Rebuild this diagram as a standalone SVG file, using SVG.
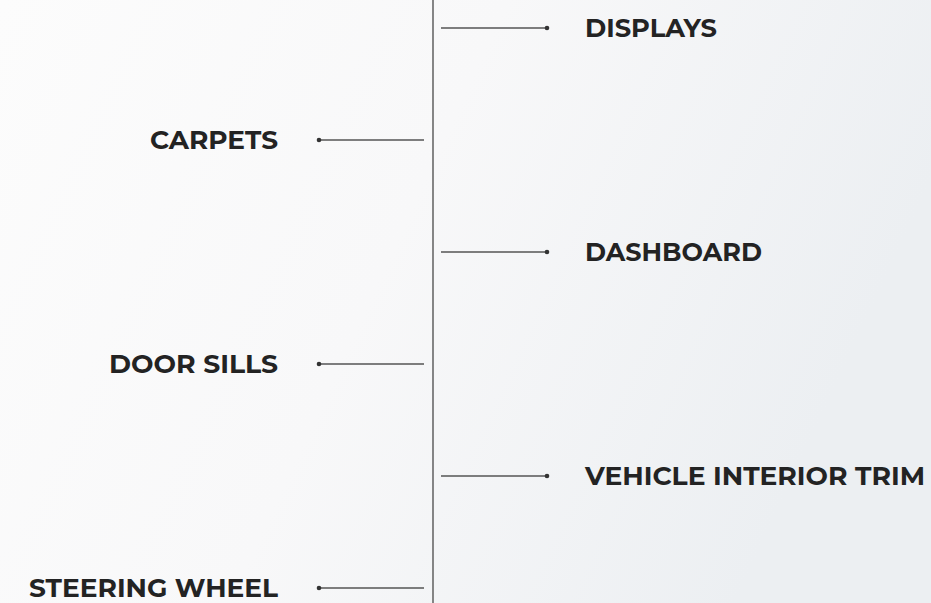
<svg xmlns="http://www.w3.org/2000/svg" width="931" height="603" viewBox="0 0 931 603">
<defs>
<linearGradient id="bg" x1="0" y1="0" x2="1" y2="0.3">
<stop offset="0" stop-color="#fcfcfc"/>
<stop offset="0.5" stop-color="#f8f8f9"/>
<stop offset="1" stop-color="#eceff2"/>
</linearGradient>
<style>
.lbl{font-family:"Montserrat","Liberation Sans",Arial,sans-serif;font-weight:bold;font-size:24.5px;fill:#232323}
.ln{stroke:#555;stroke-width:1.4;fill:none}
.dot{fill:#333}
</style>
</defs>
<rect width="931" height="603" fill="url(#bg)"/>
<g id="connectors">
<line class="ln" x1="433" y1="0" x2="433" y2="603"/>
<line class="ln" x1="441" y1="28" x2="547" y2="28"/><circle class="dot" cx="547" cy="28" r="2.3"/>
<line class="ln" x1="441" y1="252" x2="547" y2="252"/><circle class="dot" cx="547" cy="252" r="2.3"/>
<line class="ln" x1="441" y1="476" x2="547" y2="476"/><circle class="dot" cx="547" cy="476" r="2.3"/>
<line class="ln" x1="319" y1="140" x2="424" y2="140"/><circle class="dot" cx="319" cy="140" r="2.3"/>
<line class="ln" x1="319" y1="364" x2="424" y2="364"/><circle class="dot" cx="319" cy="364" r="2.3"/>
<line class="ln" x1="319" y1="588" x2="424" y2="588"/><circle class="dot" cx="319" cy="588" r="2.3"/>
</g>
<g id="displays"><text class="lbl" x="585" y="36.5" textLength="132" lengthAdjust="spacingAndGlyphs">DISPLAYS</text></g>
<g id="carpets"><text class="lbl" x="150" y="148.5" textLength="128" lengthAdjust="spacingAndGlyphs">CARPETS</text></g>
<g id="dashboard"><text class="lbl" x="585" y="260.5" textLength="177" lengthAdjust="spacingAndGlyphs">DASHBOARD</text></g>
<g id="door-sills"><text class="lbl" x="109" y="372.5" textLength="169" lengthAdjust="spacingAndGlyphs">DOOR SILLS</text></g>
<g id="vehicle-interior-trim"><text class="lbl" x="585" y="484.5" textLength="340" lengthAdjust="spacingAndGlyphs">VEHICLE INTERIOR TRIM</text></g>
<g id="steering-wheel"><text class="lbl" x="29" y="596.5" textLength="249" lengthAdjust="spacingAndGlyphs">STEERING WHEEL</text></g>
</svg>
